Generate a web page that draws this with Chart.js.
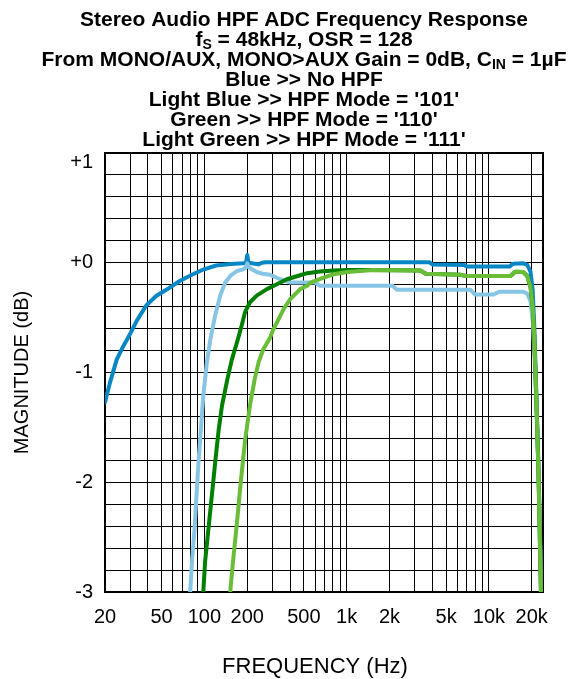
<!DOCTYPE html>
<html>
<head>
<meta charset="utf-8">
<script src="https://cdn.jsdelivr.net/npm/chart.js@4"></script>
<style>
  html, body { margin: 0; padding: 0; background: #fff; }
</style>
</head>
<body>
<canvas id="chart" width="580" height="679"></canvas>
<script>
// ---------- Data ----------
const gridFreqs = [20, 30, 40, 50, 60, 70, 80, 90, 100, 200, 300, 400, 500, 600, 700, 800, 900,
  1000, 2000, 3000, 4000, 5000, 6000, 7000, 8000, 9000, 10000, 20000];
const labelFreqs = [20, 50, 100, 200, 500, 1000, 2000, 5000, 10000, 20000];
const labelTexts = ["20", "50", "100", "200", "500", "1k", "2k", "5k", "10k", "20k"];

const dbGrid = [-3, -2.8, -2.6, -2.4, -2.2, -2, -1.8, -1.6, -1.4, -1.2, -1, -0.8, -0.6, -0.4, -0.2, 0,
  0.2, 0.4, 0.6, 0.8, 1];
const dbLabelValues = [-3, -2, -1, 0, 1];
const dbLabelTexts = ["-3", "-2", "-1", "+0", "+1"];

// Blue >> No HPF
const noHpfFreq = [20, 21.7, 24.2, 26.9, 30, 33.4, 39, 46, 55, 67, 83, 98, 121, 152, 188, 196, 200, 204,
  215, 240, 254, 270, 3800, 4000, 6700, 7000, 14000, 14800, 17500, 18600, 19600, 20300, 20800, 21500, 22300, 23400];
const noHpfDb = [-1.27, -1.09, -0.88, -0.76, -0.65, -0.53, -0.39, -0.30, -0.24, -0.166, -0.105, -0.062, -0.025,
  -0.012, -0.005, -0.003, 0.07, 0.0, -0.005, -0.015, 0.0, 0.005, 0.005, -0.015, -0.02, -0.035, -0.035, -0.008,
  -0.005, -0.02, -0.08, -0.25, -0.55, -1.15, -1.85, -3.0];

// Light Blue >> HPF Mode '101'
const mode101Freq = [79.4, 82, 85.2, 90.8, 98.2, 104, 110, 119, 129, 140, 152, 169, 188, 196, 200, 205, 216,
  233, 257, 290, 341, 402, 600, 650, 2100, 2250, 7400, 8000, 10800, 11800, 17500, 18600, 19600, 20400, 21000,
  21600, 22400, 23300];
const mode101Db = [-3.0, -2.7, -2.43, -1.82, -1.21, -0.91, -0.70, -0.48, -0.30, -0.18, -0.12, -0.075, -0.06,
  -0.04, -0.005, -0.04, -0.06, -0.084, -0.10, -0.11, -0.15, -0.18, -0.18, -0.21, -0.21, -0.245, -0.245, -0.29,
  -0.29, -0.265, -0.265, -0.28, -0.35, -0.55, -0.9, -1.35, -2.0, -3.0];

// Green >> HPF Mode '110'
const mode110Freq = [98.2, 101, 106.6, 112.8, 119, 126, 133, 145, 156, 169, 183, 193, 209, 233, 275, 323, 380,
  471, 527, 650, 810, 1000, 1500, 3300, 3600, 6300, 6900, 14200, 15300, 17400, 18600, 19600, 20300, 20800,
  21500, 22300, 23200];
const mode110Db = [-3.0, -2.73, -2.43, -2.12, -1.82, -1.52, -1.30, -1.06, -0.88, -0.73, -0.57, -0.45, -0.36,
  -0.30, -0.24, -0.196, -0.15, -0.114, -0.095, -0.08, -0.07, -0.065, -0.065, -0.07, -0.10, -0.11, -0.12, -0.12,
  -0.082, -0.085, -0.12, -0.22, -0.40, -0.65, -1.2, -1.9, -3.0];

// Light Green >> HPF Mode '111'
const mode111Freq = [151.8, 160, 169, 180, 193.4, 209, 225.7, 240, 259, 290, 304, 323, 361, 402, 447, 471, 527,
  556, 689, 811, 1006, 1540, 3300, 3600, 6300, 6900, 14200, 15300, 17400, 18600, 19600, 20300, 20800, 21500,
  22300, 23200];
const mode111Db = [-3.0, -2.68, -2.38, -2.0, -1.61, -1.30, -1.06, -0.91, -0.79, -0.68, -0.61, -0.545, -0.42,
  -0.33, -0.27, -0.24, -0.21, -0.18, -0.135, -0.105, -0.084, -0.066, -0.07, -0.10, -0.11, -0.12, -0.12, -0.082,
  -0.085, -0.12, -0.22, -0.40, -0.65, -1.2, -1.9, -3.0];

// title lines: [text, isSubscript]
const titleLines = [
  [["Stereo Audio HPF ADC Frequency Response", 0]],
  [["f", 0], ["S", 1], [" = 48kHz, OSR = 128", 0]],
  [["From MONO/AUX, MONO>AUX Gain = 0dB, C", 0], ["IN", 1], [" = 1µF", 0]],
  [["Blue >> No HPF", 0]],
  [["Light Blue >> HPF Mode = '101'", 0]],
  [["Green >> HPF Mode = '110'", 0]],
  [["Light Green >> HPF Mode = '111'", 0]]
];
const xTitle = "FREQUENCY (Hz)";
const yTitle = "MAGNITUDE (dB)";

// ---------- Helpers ----------
const FONT = "'Liberation Sans', Arial, sans-serif";
const toPoints = (xs, ys) => xs.map((x, i) => ({ x, y: ys[i] }));

function series(label, xs, ys, color, order) {
  return {
    label,
    data: toPoints(xs, ys),
    borderColor: color,
    backgroundColor: color,
    borderWidth: 4,
    pointRadius: 0,
    tension: 0,
    borderCapStyle: "round",
    borderJoinStyle: "round",
    order
  };
}

// ---------- Plugins ----------
const frame = {
  id: "frame",
  beforeDatasetsDraw(chart) {
    const { ctx, chartArea: a } = chart;
    ctx.save();
    ctx.strokeStyle = "#000";
    ctx.lineWidth = 2;
    ctx.strokeRect(a.left, a.top, a.right - a.left, a.bottom - a.top);
    ctx.restore();
  }
};

const titleBlock = {
  id: "titleBlock",
  afterDraw(chart) {
    const ctx = chart.ctx;
    const main = "bold 21px " + FONT;
    const sub = "bold 14px " + FONT;
    const cx = 304;
    ctx.save();
    ctx.fillStyle = "#000";
    ctx.textAlign = "left";
    ctx.textBaseline = "middle";
    titleLines.forEach((parts, i) => {
      const y = 20 + i * 20;
      let w = 0;
      parts.forEach(([t, s]) => { ctx.font = s ? sub : main; w += ctx.measureText(t).width; });
      let x = cx - w / 2;
      parts.forEach(([t, s]) => {
        ctx.font = s ? sub : main;
        ctx.fillText(t, x, s ? y + 5 : y);
        x += ctx.measureText(t).width;
      });
    });
    // x axis title
    ctx.font = "22px " + FONT;
    ctx.textAlign = "center";
    ctx.fillText(xTitle, 315, 667);
    ctx.restore();
  }
};

// ---------- Chart ----------
new Chart(document.getElementById("chart"), {
  type: "line",
  data: {
    datasets: [
      series("No HPF", noHpfFreq, noHpfDb, "#0787c5", 4),
      series("HPF Mode '101'", mode101Freq, mode101Db, "#87c5e5", 3),
      series("HPF Mode '110'", mode110Freq, mode110Db, "#008000", 2),
      series("HPF Mode '111'", mode111Freq, mode111Db, "#69bd37", 1)
    ]
  },
  options: {
    responsive: false,
    animation: false,
    devicePixelRatio: 1,
    layout: { padding: { top: 153, right: 37, bottom: 0, left: 0 } },
    plugins: { legend: { display: false }, tooltip: { enabled: false } },
    scales: {
      x: {
        type: "logarithmic",
        min: 20,
        max: 24000,
        afterFit: s => { s.height = 87; },
        afterBuildTicks: s => { s.ticks = gridFreqs.map(v => ({ value: v })); },
        grid: { color: "#000", lineWidth: 1, drawTicks: false },
        border: { display: false },
        ticks: {
          autoSkip: false,
          maxRotation: 0,
          padding: 13,
          color: "#000",
          font: { family: FONT, size: 20 },
          callback: v => {
            const i = labelFreqs.indexOf(v);
            return i >= 0 ? labelTexts[i] : "";
          }
        }
      },
      y: {
        min: -3,
        max: 1,
        afterFit: s => { s.width = 105; },
        afterBuildTicks: s => { s.ticks = dbGrid.map(v => ({ value: v })); },
        grid: { color: "#000", lineWidth: 1, drawTicks: false },
        border: { display: false },
        ticks: {
          autoSkip: false,
          padding: 12,
          color: "#000",
          // top label sits a little below the frame, as in the original
          font: c => ({ family: FONT, size: 20, lineHeight: c.tick && c.tick.value === 1 ? 0.9 : 1.2 }),
          callback: v => {
            const i = dbLabelValues.findIndex(d => Math.abs(d - v) < 1e-6);
            if (i < 0) return "";
            return v === 1 ? ["", dbLabelTexts[i]] : dbLabelTexts[i];
          }
        },
        title: {
          display: true,
          text: yTitle,
          color: "#000",
          font: { family: FONT, size: 20, lineHeight: 1.2 },
          padding: { top: 10, bottom: 0 }
        }
      }
    }
  },
  plugins: [frame, titleBlock]
});
</script>
</body>
</html>
